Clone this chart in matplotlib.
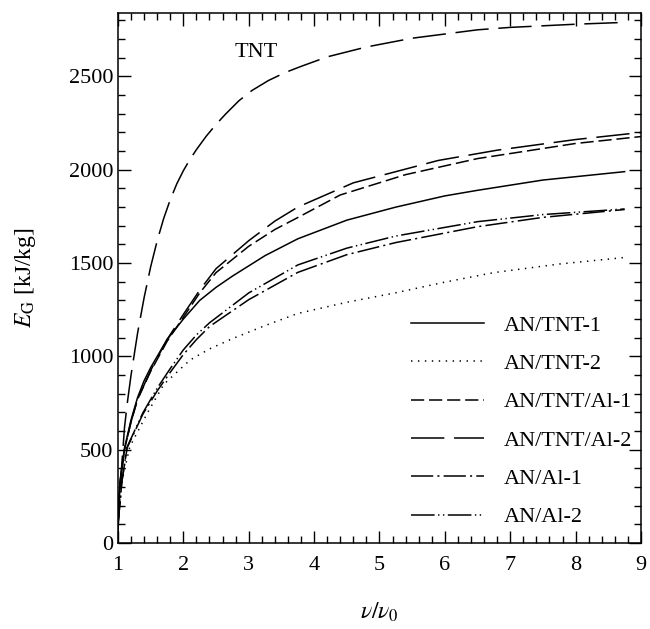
import matplotlib
matplotlib.use("Agg")
import matplotlib.pyplot as plt
from matplotlib.ticker import MultipleLocator

plt.rcParams["font.family"] = ["Liberation Serif", "DejaVu Serif"]
plt.rcParams["mathtext.fontset"] = "stix"
plt.rcParams["lines.scale_dashes"] = False

# v/v0 and E_G [kJ/kg]
tnt_x = [1.0, 1.05, 1.1, 1.15, 1.2, 1.3, 1.4, 1.5, 1.6, 1.7, 1.8, 1.9, 2.0, 2.1, 2.2, 2.35, 2.5, 2.65, 2.85, 3.05,
         3.3, 3.55, 3.8, 4.2, 4.8, 5.5, 6.5, 7.0, 8.0, 8.76]
tnt_y = [60, 380, 620, 770, 900, 1125, 1315, 1480, 1620, 1740, 1840, 1925, 1995, 2055, 2108, 2180, 2243, 2300, 2370, 2425,
         2478, 2520, 2554, 2605, 2658, 2705, 2750, 2763, 2780, 2790]

an_tnt_1_x = [1.0, 1.03, 1.1, 1.2, 1.3, 1.4, 1.5, 1.75, 2.0, 2.25, 2.5, 2.75, 3.25, 3.75, 4.5, 5.25, 6.0, 6.5, 7.5, 8.75]
an_tnt_1_y = [110, 330, 510, 660, 780, 870, 940, 1090, 1200, 1300, 1370, 1430, 1540, 1630, 1730, 1800, 1860, 1890, 1945, 1990]

an_tnt_2_x = [1.0, 1.06, 1.18, 1.45, 1.7, 2.1, 2.4, 2.75, 3.25, 3.75, 4.5, 5.25, 6.0, 6.75, 7.75, 8.75]
an_tnt_2_y = [100, 330, 515, 697, 850, 980, 1040, 1095, 1165, 1230, 1290, 1341, 1398, 1449, 1495, 1530]

an_tnt_al_1_x = [1.0, 1.03, 1.1, 1.2, 1.3, 1.5, 1.75, 2.0, 2.25, 2.5, 3.0, 3.4, 3.75, 4.4, 5.4, 6.5, 8.0, 9.0]
an_tnt_al_1_y = [110, 320, 500, 650, 770, 920, 1080, 1210, 1340, 1449, 1590, 1680, 1744, 1865, 1974, 2060, 2141, 2178]

an_tnt_al_2_x = [1.0, 1.03, 1.1, 1.2, 1.3, 1.5, 1.75, 2.0, 2.25, 2.5, 3.0, 3.4, 3.75, 4.6, 5.9, 6.8, 8.0, 9.0]
an_tnt_al_2_y = [110, 320, 500, 650, 770, 925, 1090, 1225, 1355, 1470, 1620, 1725, 1800, 1930, 2050, 2105, 2162, 2200]

an_al_1_x = [1.0, 1.06, 1.14, 1.38, 1.6, 1.8, 2.0, 2.2, 2.4, 3.0, 3.75, 4.5, 5.25, 6.5, 7.5, 8.75]
an_al_1_y = [100, 330, 510, 690, 815, 915, 1010, 1090, 1160, 1304, 1450, 1545, 1610, 1695, 1745, 1787]

an_al_2_x = [1.0, 1.06, 1.14, 1.38, 1.6, 1.8, 2.0, 2.2, 2.4, 3.0, 3.75, 4.5, 5.25, 6.5, 7.5, 8.75]
an_al_2_y = [100, 330, 515, 697, 830, 935, 1035, 1115, 1180, 1340, 1490, 1580, 1645, 1722, 1760, 1790]

long_dash = (0, (24, 7))
short_dash = (0, (9.5, 3.5))
dotted = (0, (1, 4))
dash_dot = (0, (16, 3, 1.5, 3))
dash_dot_dot = (0, (17, 2.5, 1, 2.5, 1, 2.5))

fig = plt.figure(figsize=(6.5, 6.29), dpi=100)
ax = fig.add_axes([0.1815, 0.1367, 0.8046, 0.8426])

lw = 1.1
ax.plot(tnt_x, tnt_y, color="black", lw=lw, linestyle=long_dash)
ax.plot(an_tnt_1_x, an_tnt_1_y, color="black", lw=lw, linestyle="-", label="AN/TNT-1")
ax.plot(an_tnt_2_x, an_tnt_2_y, color="black", lw=lw, linestyle=dotted, label="AN/TNT-2")
ax.plot(an_tnt_al_1_x, an_tnt_al_1_y, color="black", lw=lw, linestyle=short_dash, label="AN/TNT/Al-1")
ax.plot(an_tnt_al_2_x, an_tnt_al_2_y, color="black", lw=lw, linestyle=long_dash, label="AN/TNT/Al-2")
ax.plot(an_al_1_x, an_al_1_y, color="black", lw=lw, linestyle=dash_dot, label="AN/Al-1")
ax.plot(an_al_2_x, an_al_2_y, color="black", lw=lw, linestyle=dash_dot_dot, label="AN/Al-2")

ax.text(3.12, 2630, "TNT", fontsize=16, ha="center", va="center")

ax.set_xlim(1, 9)
ax.set_ylim(0, 2840)
ax.xaxis.set_major_locator(MultipleLocator(1))
ax.xaxis.set_minor_locator(MultipleLocator(0.2))
ax.yaxis.set_major_locator(MultipleLocator(500))
ax.yaxis.set_minor_locator(MultipleLocator(100))
ax.tick_params(which="both", direction="in", top=True, right=True, width=1, labelsize=16)
ax.tick_params(which="major", length=9)
ax.tick_params(which="minor", length=5)
ax.tick_params(axis="x", pad=9)
for sp in ax.spines.values():
    sp.set_linewidth(1.1)

ax.set_xlabel(r"$\nu/\nu_0$", fontsize=17, labelpad=19)
ax.set_ylabel(r"$E_{\mathrm{G}}$ [kJ/kg]", fontsize=17, labelpad=22)

ax.legend(loc="upper left", bbox_to_anchor=(0.56, 0.43), frameon=False, fontsize=16,
          handlelength=3.3, handletextpad=0.9, labelspacing=0.8, borderpad=0, borderaxespad=0)

fig.savefig("out.png", dpi=100)
